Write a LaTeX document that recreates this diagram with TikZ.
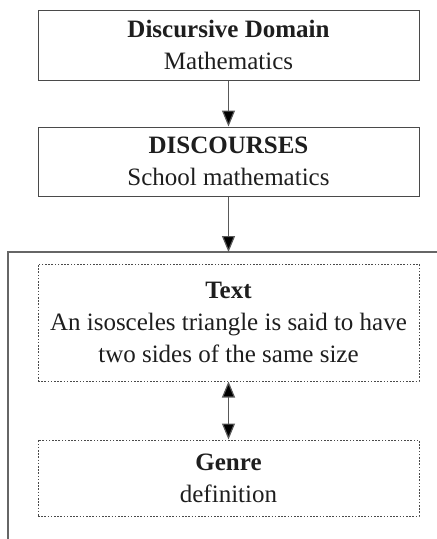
\documentclass[tikz,border=0pt]{standalone}
\usepackage{fontspec}
\setmainfont{Liberation Serif}
\usetikzlibrary{arrows.meta}
\definecolor{ink}{HTML}{1E1E1E}
\definecolor{edge}{HTML}{4A4A4A}
\begin{document}
\begin{tikzpicture}[x=1pt,y=-1pt,
  every node/.style={text=ink,font=\fontsize{25}{32}\selectfont,align=center,inner sep=0pt},
  solidbox/.style={draw=edge,line width=1pt,minimum width=381pt},
  dotbox/.style={draw=edge,line width=1pt,dash pattern=on 1.6pt off 1.6pt,minimum width=381pt},
  conn/.style={draw=gray!70!black,line width=1.2pt,-{Triangle[length=16pt,width=13pt,fill=black]}},
  dconn/.style={draw=gray!70!black,line width=1.2pt,{Triangle[length=16pt,width=13pt,fill=black]}-{Triangle[length=16pt,width=13pt,fill=black]}}]
\useasboundingbox (0,0) rectangle (437,539);
\node[solidbox,minimum height=70pt] (dom) at (228.5,45) {\textbf{Discursive Domain}\\Mathematics};
\node[solidbox,minimum height=69pt] (disc) at (228.5,161.5) {\textbf{DISCOURSES}\\School mathematics};
\draw[gray!80!black,line width=1.6pt] (8,540) -- (8,252) -- (440,252);
\coordinate (frametop) at (228.5,252);
\node[dotbox,minimum height=117pt] (txt) at (228.5,322.5) {\textbf{Text}\\An isosceles triangle is said to have\\two sides of the same size};
\node[dotbox,minimum height=76pt] (gen) at (228.5,478) {\textbf{Genre}\\definition};
\draw[conn] (dom.south) -- (disc.north);
\draw[conn] (disc.south) -- (frametop);
\draw[dconn] (txt.south) -- (gen.north);
\end{tikzpicture}
\end{document}
